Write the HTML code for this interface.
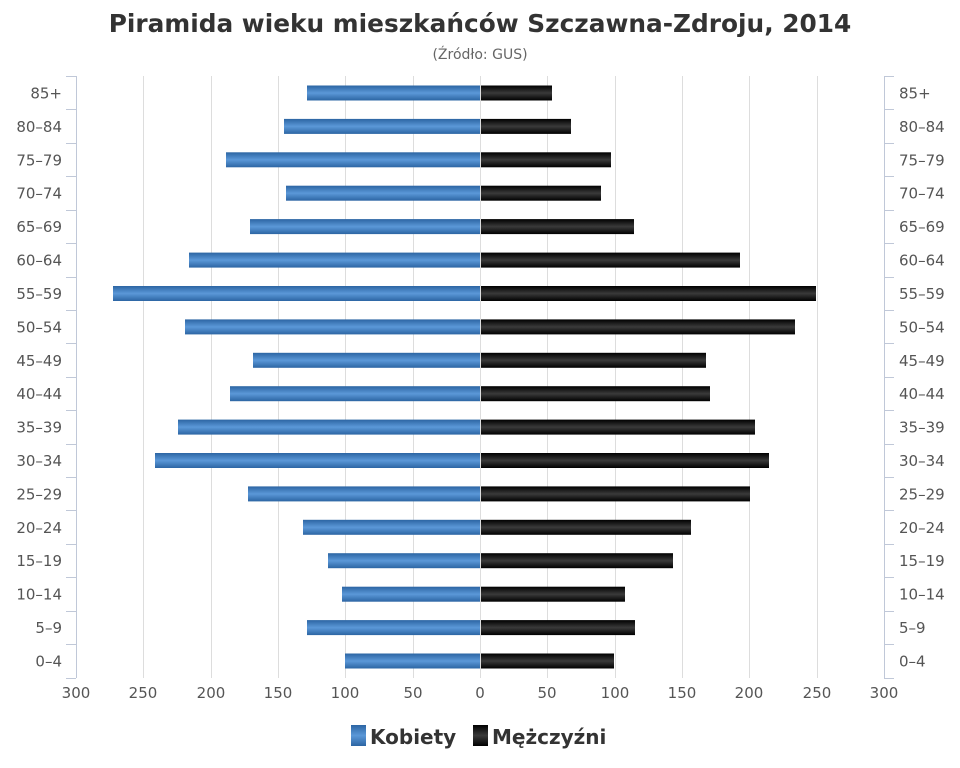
<!DOCTYPE html>
<html><head><meta charset="utf-8"><style>body{margin:0;background:#fff}svg{display:block}</style></head><body>
<svg width="960" height="768" xmlns="http://www.w3.org/2000/svg" font-family="DejaVu Sans, sans-serif">
<defs>
<linearGradient id="b" x1="0" y1="0" x2="0" y2="1"><stop offset="0" stop-color="#2c65a3"/><stop offset="0.5" stop-color="#5b98d8"/><stop offset="1" stop-color="#2c65a3"/></linearGradient>
<linearGradient id="k" x1="0" y1="0" x2="0" y2="1"><stop offset="0" stop-color="#000"/><stop offset="0.5" stop-color="#3a3a3a"/><stop offset="1" stop-color="#000"/></linearGradient>
</defs>
<text x="480" y="32" text-anchor="middle" font-size="24.8" font-weight="bold" fill="#333">Piramida wieku mieszkańców Szczawna-Zdroju, 2014</text>
<text x="480" y="59" text-anchor="middle" font-size="14" fill="#666">(Źródło: GUS)</text>
<g stroke="#ddd" stroke-width="1">
<line x1="143.5" y1="76" x2="143.5" y2="678"/><line x1="211.5" y1="76" x2="211.5" y2="678"/><line x1="278.5" y1="76" x2="278.5" y2="678"/><line x1="345.5" y1="76" x2="345.5" y2="678"/><line x1="413.5" y1="76" x2="413.5" y2="678"/><line x1="480.5" y1="76" x2="480.5" y2="678"/><line x1="547.5" y1="76" x2="547.5" y2="678"/><line x1="615.5" y1="76" x2="615.5" y2="678"/><line x1="682.5" y1="76" x2="682.5" y2="678"/><line x1="749.5" y1="76" x2="749.5" y2="678"/><line x1="817.5" y1="76" x2="817.5" y2="678"/>
</g>
<g stroke="#c0c8d8" stroke-width="1">
<line x1="76.5" y1="76" x2="76.5" y2="678"/><line x1="884.5" y1="76" x2="884.5" y2="678"/>
<line x1="66" y1="76.5" x2="76" y2="76.5"/><line x1="66" y1="109.5" x2="76" y2="109.5"/><line x1="66" y1="143.5" x2="76" y2="143.5"/><line x1="66" y1="176.5" x2="76" y2="176.5"/><line x1="66" y1="210.5" x2="76" y2="210.5"/><line x1="66" y1="243.5" x2="76" y2="243.5"/><line x1="66" y1="277.5" x2="76" y2="277.5"/><line x1="66" y1="310.5" x2="76" y2="310.5"/><line x1="66" y1="343.5" x2="76" y2="343.5"/><line x1="66" y1="377.5" x2="76" y2="377.5"/><line x1="66" y1="410.5" x2="76" y2="410.5"/><line x1="66" y1="444.5" x2="76" y2="444.5"/><line x1="66" y1="477.5" x2="76" y2="477.5"/><line x1="66" y1="510.5" x2="76" y2="510.5"/><line x1="66" y1="544.5" x2="76" y2="544.5"/><line x1="66" y1="577.5" x2="76" y2="577.5"/><line x1="66" y1="611.5" x2="76" y2="611.5"/><line x1="66" y1="644.5" x2="76" y2="644.5"/><line x1="66" y1="678.5" x2="76" y2="678.5"/>
<line x1="884" y1="76.5" x2="894" y2="76.5"/><line x1="884" y1="109.5" x2="894" y2="109.5"/><line x1="884" y1="143.5" x2="894" y2="143.5"/><line x1="884" y1="176.5" x2="894" y2="176.5"/><line x1="884" y1="210.5" x2="894" y2="210.5"/><line x1="884" y1="243.5" x2="894" y2="243.5"/><line x1="884" y1="277.5" x2="894" y2="277.5"/><line x1="884" y1="310.5" x2="894" y2="310.5"/><line x1="884" y1="343.5" x2="894" y2="343.5"/><line x1="884" y1="377.5" x2="894" y2="377.5"/><line x1="884" y1="410.5" x2="894" y2="410.5"/><line x1="884" y1="444.5" x2="894" y2="444.5"/><line x1="884" y1="477.5" x2="894" y2="477.5"/><line x1="884" y1="510.5" x2="894" y2="510.5"/><line x1="884" y1="544.5" x2="894" y2="544.5"/><line x1="884" y1="577.5" x2="894" y2="577.5"/><line x1="884" y1="611.5" x2="894" y2="611.5"/><line x1="884" y1="644.5" x2="894" y2="644.5"/><line x1="884" y1="678.5" x2="894" y2="678.5"/>
</g>
<g fill="url(#b)">
<rect x="307" y="85.5" width="173" height="15"/>
<rect x="284" y="118.9" width="196" height="15"/>
<rect x="226" y="152.3" width="254" height="15"/>
<rect x="286" y="185.7" width="194" height="15"/>
<rect x="250" y="219.1" width="230" height="15"/>
<rect x="189" y="252.6" width="291" height="15"/>
<rect x="113" y="286" width="367" height="15"/>
<rect x="185" y="319.4" width="295" height="15"/>
<rect x="253" y="352.8" width="227" height="15"/>
<rect x="230" y="386.2" width="250" height="15"/>
<rect x="178" y="419.6" width="302" height="15"/>
<rect x="155" y="453" width="325" height="15"/>
<rect x="248" y="486.4" width="232" height="15"/>
<rect x="303" y="519.8" width="177" height="15"/>
<rect x="328" y="553.2" width="152" height="15"/>
<rect x="342" y="586.7" width="138" height="15"/>
<rect x="307" y="620.1" width="173" height="15"/>
<rect x="345" y="653.5" width="135" height="15"/>
</g>
<g fill="url(#k)">
<rect x="481" y="85.5" width="71" height="15"/>
<rect x="481" y="118.9" width="90" height="15"/>
<rect x="481" y="152.3" width="130" height="15"/>
<rect x="481" y="185.7" width="120" height="15"/>
<rect x="481" y="219.1" width="153" height="15"/>
<rect x="481" y="252.6" width="259" height="15"/>
<rect x="481" y="286" width="335" height="15"/>
<rect x="481" y="319.4" width="314" height="15"/>
<rect x="481" y="352.8" width="225" height="15"/>
<rect x="481" y="386.2" width="229" height="15"/>
<rect x="481" y="419.6" width="274" height="15"/>
<rect x="481" y="453" width="288" height="15"/>
<rect x="481" y="486.4" width="269" height="15"/>
<rect x="481" y="519.8" width="210" height="15"/>
<rect x="481" y="553.2" width="192" height="15"/>
<rect x="481" y="586.7" width="144" height="15"/>
<rect x="481" y="620.1" width="154" height="15"/>
<rect x="481" y="653.5" width="133" height="15"/>
</g>
<g font-size="15" fill="#555" text-anchor="end">
<text x="62" y="98.5">85+</text><text x="62" y="131.9">80–84</text><text x="62" y="165.3">75–79</text><text x="62" y="198.7">70–74</text><text x="62" y="232.1">65–69</text><text x="62" y="265.6">60–64</text><text x="62" y="299">55–59</text><text x="62" y="332.4">50–54</text><text x="62" y="365.8">45–49</text><text x="62" y="399.2">40–44</text><text x="62" y="432.6">35–39</text><text x="62" y="466">30–34</text><text x="62" y="499.4">25–29</text><text x="62" y="532.8">20–24</text><text x="62" y="566.2">15–19</text><text x="62" y="599.7">10–14</text><text x="62" y="633.1">5–9</text><text x="62" y="666.5">0–4</text>
</g>
<g font-size="15" fill="#555">
<text x="899" y="98.5">85+</text><text x="899" y="131.9">80–84</text><text x="899" y="165.3">75–79</text><text x="899" y="198.7">70–74</text><text x="899" y="232.1">65–69</text><text x="899" y="265.6">60–64</text><text x="899" y="299">55–59</text><text x="899" y="332.4">50–54</text><text x="899" y="365.8">45–49</text><text x="899" y="399.2">40–44</text><text x="899" y="432.6">35–39</text><text x="899" y="466">30–34</text><text x="899" y="499.4">25–29</text><text x="899" y="532.8">20–24</text><text x="899" y="566.2">15–19</text><text x="899" y="599.7">10–14</text><text x="899" y="633.1">5–9</text><text x="899" y="666.5">0–4</text>
</g>
<g font-size="15" fill="#555" text-anchor="middle">
<text x="76" y="698">300</text><text x="143" y="698">250</text><text x="211" y="698">200</text><text x="278" y="698">150</text><text x="345" y="698">100</text><text x="413" y="698">50</text><text x="480" y="698">0</text><text x="547" y="698">50</text><text x="615" y="698">100</text><text x="682" y="698">150</text><text x="749" y="698">200</text><text x="817" y="698">250</text><text x="884" y="698">300</text>
</g>
<rect x="351" y="725" width="15" height="21" fill="url(#b)"/>
<text x="370" y="744" font-size="20" font-weight="bold" fill="#333">Kobiety</text>
<rect x="473" y="725" width="15" height="21" fill="url(#k)"/>
<text x="492" y="744" font-size="20" font-weight="bold" fill="#333">Mężczyźni</text>
</svg>
</body></html>
